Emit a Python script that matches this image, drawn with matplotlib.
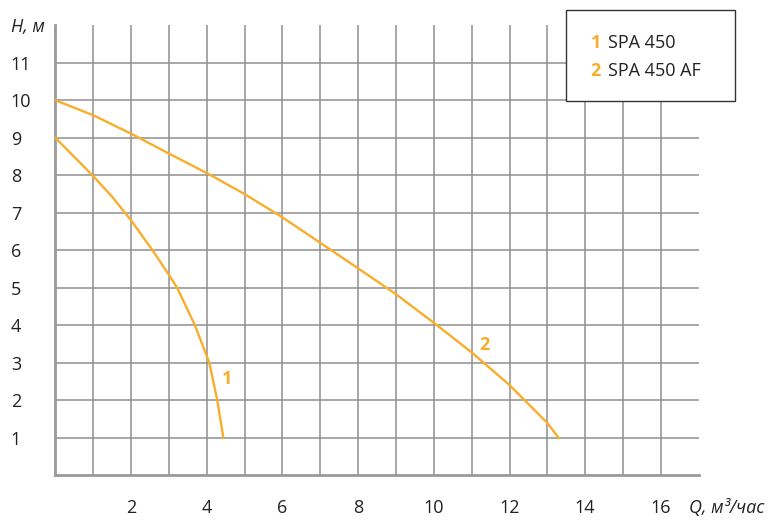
import matplotlib.pyplot as plt
from matplotlib.patches import Rectangle

# напорные характеристики насосов
q1 = [0, 0.98, 1.5, 2, 2.57, 3, 3.22, 3.69, 4.07, 4.28, 4.44]
h1 = [9, 8, 7.43, 6.8, 6, 5.35, 5, 4, 3, 2, 1]

q2 = [0, 1, 2, 3, 4, 5, 6, 7, 8, 9, 10, 11, 12, 13, 13.3]
h2 = [10, 9.6, 9.11, 8.58, 8.06, 7.5, 6.88, 6.2, 5.52, 4.83, 4.07, 3.28, 2.41, 1.4, 1.0]

names = ["SPA 450", "SPA 450 AF"]
xticks = list(range(1, 17))
yticks = list(range(1, 12))

orange = '#F8AE2A'
grid_c = '#8f8f8f'

plt.rcParams['font.family'] = ['Open Sans', 'DejaVu Sans']

fig = plt.figure(figsize=(7.79, 5.2), dpi=100)
ax = fig.add_axes([0.071, 0.0856, 0.826, 0.866])

ax.plot(q1, h1, color=orange, lw=1.7, solid_joinstyle='round', zorder=3)
ax.plot(q2, h2, color=orange, lw=1.7, solid_joinstyle='round', zorder=3)

ax.text(4.53, 2.57, "1", color=orange, fontsize=13, fontweight='bold', ha='center', va='center')
ax.text(11.35, 3.48, "2", color=orange, fontsize=13, fontweight='bold', ha='center', va='center')

ax.set_xlim(0, 17)
ax.set_ylim(0, 12)
ax.set_xticks(xticks)
ax.set_xticklabels([str(i) if i % 2 == 0 else '' for i in xticks])
ax.set_yticks(yticks)
ax.set_yticklabels([str(i) for i in yticks])
ax.grid(True, color=grid_c, lw=1.1)
ax.set_axisbelow(True)
ax.tick_params(length=0, labelsize=13, colors='#222222')
ax.tick_params(axis='x', pad=17)
ax.tick_params(axis='y', pad=32)
for lbl in ax.get_yticklabels():
    lbl.set_horizontalalignment('left')

for s in ['top', 'right']:
    ax.spines[s].set_visible(False)
for s in ['left', 'bottom']:
    ax.spines[s].set_color('#9a9a9a')
    ax.spines[s].set_linewidth(2)

fig.text(0.014, 0.948, "H, м", fontsize=13, style='italic', va='center', color='#222222')
fig.text(0.885, 0.023, "Q, м³/час", fontsize=13, style='italic', va='center', color='#222222')

# легенда
fig.patches.append(Rectangle((0.726, 0.805), 0.217, 0.176, transform=fig.transFigure,
                             facecolor='white', edgecolor='#333333', lw=1, zorder=5))
for i, (nm, y) in enumerate(zip(names, [0.917, 0.863])):
    fig.text(0.758, y, str(i + 1), color=orange, fontsize=13, fontweight='bold', va='center', zorder=6)
    fig.text(0.780, y, nm, color='#222222', fontsize=13, va='center', zorder=6)

fig.savefig('out.png', dpi=100)
